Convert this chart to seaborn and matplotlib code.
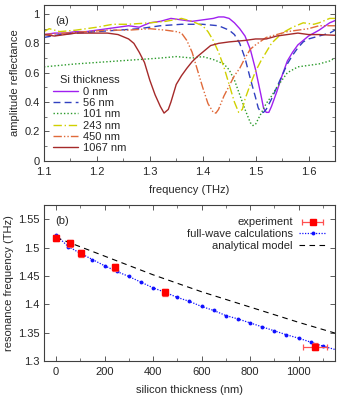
import numpy as np
import matplotlib
matplotlib.use("Agg")
import matplotlib.pyplot as plt
import seaborn as sns
from matplotlib.ticker import MultipleLocator, FuncFormatter
from matplotlib.container import ErrorbarContainer
from matplotlib.legend_handler import HandlerErrorbar

# panel (a): reflectance spectra, one frequency/amplitude pair per Si thickness
f_0 = [1.10, 1.12, 1.14, 1.16, 1.18, 1.20, 1.22, 1.24, 1.26, 1.28, 1.30, 1.32, 1.34, 1.36,
       1.38, 1.40, 1.42, 1.43, 1.44, 1.45, 1.46, 1.47, 1.48, 1.49, 1.50, 1.51, 1.515, 1.52,
       1.525, 1.53, 1.54, 1.55, 1.56, 1.57, 1.58, 1.59, 1.60, 1.62, 1.64, 1.65]
r_0 = [0.86, 0.87, 0.87, 0.88, 0.88, 0.89, 0.90, 0.91, 0.92, 0.91, 0.94, 0.95, 0.97, 0.96,
       0.95, 0.96, 0.97, 0.98, 0.98, 0.97, 0.94, 0.90, 0.85, 0.76, 0.62, 0.45, 0.36, 0.33,
       0.33, 0.37, 0.47, 0.58, 0.68, 0.74, 0.79, 0.82, 0.85, 0.89, 0.94, 0.955]

f_56 = [1.10, 1.13, 1.16, 1.20, 1.24, 1.28, 1.32, 1.36, 1.40, 1.43, 1.45, 1.46, 1.47, 1.48,
        1.49, 1.50, 1.505, 1.51, 1.515, 1.52, 1.53, 1.54, 1.55, 1.56, 1.57, 1.58, 1.59, 1.60,
        1.62, 1.64, 1.65]
r_56 = [0.84, 0.86, 0.87, 0.88, 0.89, 0.90, 0.92, 0.93, 0.93, 0.92, 0.89, 0.86, 0.80, 0.70,
        0.56, 0.43, 0.36, 0.33, 0.33, 0.35, 0.42, 0.50, 0.58, 0.66, 0.72, 0.77, 0.81, 0.83,
        0.85, 0.87, 0.89]

f_101 = [1.10, 1.13, 1.16, 1.20, 1.24, 1.28, 1.32, 1.35, 1.38, 1.40, 1.42, 1.44, 1.45, 1.46,
         1.47, 1.48, 1.49, 1.495, 1.50, 1.51, 1.52, 1.53, 1.54, 1.55, 1.56, 1.58, 1.60, 1.62,
         1.64, 1.65]
r_101 = [0.64, 0.65, 0.66, 0.67, 0.68, 0.69, 0.70, 0.71, 0.70, 0.71, 0.69, 0.66, 0.62, 0.55,
         0.45, 0.35, 0.26, 0.24, 0.25, 0.32, 0.39, 0.44, 0.50, 0.55, 0.60, 0.64, 0.65, 0.66,
         0.68, 0.70]

f_243 = [1.10, 1.11, 1.13, 1.16, 1.20, 1.23, 1.26, 1.30, 1.33, 1.36, 1.38, 1.40, 1.41, 1.42,
         1.43, 1.44, 1.45, 1.46, 1.468, 1.475, 1.48, 1.49, 1.50, 1.51, 1.52, 1.53, 1.55, 1.57,
         1.59, 1.61, 1.62, 1.64, 1.65]
r_243 = [0.88, 0.90, 0.88, 0.89, 0.91, 0.93, 0.93, 0.94, 0.95, 0.97, 0.95, 0.92, 0.88, 0.82,
         0.74, 0.64, 0.52, 0.40, 0.33, 0.35, 0.42, 0.52, 0.61, 0.68, 0.74, 0.80, 0.87, 0.91,
         0.94, 0.93, 0.94, 0.97, 0.97]

f_450 = [1.10, 1.14, 1.18, 1.22, 1.26, 1.30, 1.33, 1.35, 1.36, 1.37, 1.38, 1.39, 1.40, 1.41,
         1.42, 1.425, 1.43, 1.44, 1.45, 1.46, 1.47, 1.48, 1.49, 1.50, 1.52, 1.54, 1.56, 1.58,
         1.60, 1.62, 1.64, 1.65]
r_450 = [0.86, 0.87, 0.88, 0.89, 0.89, 0.90, 0.89, 0.88, 0.87, 0.82, 0.74, 0.62, 0.50, 0.39,
         0.33, 0.325, 0.35, 0.44, 0.51, 0.58, 0.63, 0.70, 0.76, 0.79, 0.84, 0.86, 0.88, 0.89,
         0.90, 0.92, 0.92, 0.92]

f_1067 = [1.10, 1.12, 1.14, 1.16, 1.18, 1.20, 1.22, 1.24, 1.26, 1.27, 1.28, 1.29, 1.30, 1.31,
          1.32, 1.327, 1.335, 1.34, 1.35, 1.36, 1.37, 1.38, 1.39, 1.40, 1.41, 1.415, 1.43,
          1.45, 1.48, 1.50, 1.52, 1.54, 1.56, 1.58, 1.60, 1.62, 1.65]
r_1067 = [0.86, 0.85, 0.86, 0.87, 0.87, 0.87, 0.87, 0.86, 0.83, 0.80, 0.74, 0.67, 0.55, 0.45,
          0.37, 0.325, 0.35, 0.40, 0.52, 0.58, 0.63, 0.675, 0.71, 0.74, 0.77, 0.785, 0.80,
          0.81, 0.82, 0.83, 0.83, 0.85, 0.86, 0.87, 0.86, 0.86, 0.855]

# panel (b): resonance frequency vs silicon thickness
exp_thick = [0, 56, 101, 243, 450, 1067]
exp_freq = [1.517, 1.508, 1.490, 1.465, 1.421, 1.325]
exp_xerr = [8, 8, 8, 8, 8, 50]
exp_yerr = [0.006, 0.006, 0.006, 0.006, 0.006, 0.006]

fw_thick = [0, 50, 100, 150, 200, 250, 300, 350, 400, 450, 500, 550, 600, 650, 700, 750,
            800, 850, 900, 950, 1000, 1050, 1100]
fw_freq = [1.522, 1.502, 1.490, 1.479, 1.468, 1.458, 1.449, 1.439, 1.429, 1.421, 1.412,
           1.405, 1.396, 1.389, 1.380, 1.374, 1.367, 1.360, 1.353, 1.346, 1.340, 1.333,
           1.326]
# the calculated curve runs on past the last computed point to the axis edge
fw_tail_thick = [1100, 1150]
fw_tail_freq = [1.326, 1.320]

an_thick = [0, 200, 400, 600, 800, 1000, 1150]
an_freq = [1.518, 1.485, 1.452, 1.422, 1.395, 1.368, 1.349]

sns.set_style("ticks")
plt.rcParams['font.family'] = ['Liberation Sans', 'DejaVu Sans']
FS = 8

fig = plt.figure(figsize=(3.38, 4.0), dpi=100)
ax1 = fig.add_axes([0.130, 0.598, 0.861, 0.389])
ax2 = fig.add_axes([0.130, 0.098, 0.861, 0.389])

spectra = [
    ("0 nm", f_0, r_0, "#a020f0", "-"),
    ("56 nm", f_56, r_56, "#3040c0", (0, (5, 3))),
    ("101 nm", f_101, r_101, "#2a9a2a", (0, (1, 1.5))),
    ("243 nm", f_243, r_243, "#d0d000", (0, (6, 2, 1, 2))),
    ("450 nm", f_450, r_450, "#e06a3a", (0, (6, 1.5, 1, 1.5, 1, 1.5))),
    ("1067 nm", f_1067, r_1067, "#a52a2a", "-"),
]
for lab, f, r, c, ls in spectra:
    sns.lineplot(x=f, y=r, ax=ax1, color=c, linestyle=ls, linewidth=1.0, label=lab,
                 sort=False)

ax1.set_xlim(1.1, 1.65)
ax1.set_ylim(0, 1.06)
ax1.xaxis.set_major_locator(MultipleLocator(0.1))
ax1.xaxis.set_minor_locator(MultipleLocator(0.05))
ax1.yaxis.set_major_locator(MultipleLocator(0.2))
ax1.yaxis.set_minor_locator(MultipleLocator(0.1))
ax1.yaxis.set_major_formatter(FuncFormatter(lambda v, p: f"{v:.1f}".rstrip("0").rstrip(".")))
ax1.set_xlabel("frequency (THz)", labelpad=6, fontsize=FS)
ax1.set_ylabel("amplitude reflectance", labelpad=3, fontsize=FS)
ax1.text(0.04, 0.93, "(a)", transform=ax1.transAxes, va="top", ha="left", fontsize=FS)
ax1.legend(title="Si thickness", loc="lower left", bbox_to_anchor=(0.015, 0.02),
           frameon=False, handlelength=2.3, labelspacing=0.12, handletextpad=0.4,
           borderaxespad=0.0, fontsize=FS, title_fontsize=FS)

# panel (b)
ax2.errorbar(exp_thick, exp_freq, xerr=exp_xerr, yerr=exp_yerr, fmt="s", color="#ff0000",
             ecolor="#ff5050", markersize=5, capsize=2, elinewidth=0.9, capthick=0.9,
             label="experiment", zorder=5)
sns.lineplot(x=fw_thick, y=fw_freq, ax=ax2, color="#1010ff", linestyle=(0, (1, 1.2)),
             linewidth=0.9, marker="o", markersize=2.8, markeredgewidth=0,
             label="full-wave calculations")
sns.lineplot(x=fw_tail_thick, y=fw_tail_freq, ax=ax2, color="#1010ff",
             linestyle=(0, (1, 1.2)), linewidth=0.9)
sns.lineplot(x=an_thick, y=an_freq, ax=ax2, color="black", linestyle=(0, (5, 4)),
             linewidth=0.8, label="analytical model")

ax2.set_xlim(-50, 1150)
ax2.set_ylim(1.3, 1.575)
ax2.xaxis.set_major_locator(MultipleLocator(200))
ax2.xaxis.set_minor_locator(MultipleLocator(100))
ax2.yaxis.set_major_locator(MultipleLocator(0.05))
ax2.yaxis.set_major_formatter(FuncFormatter(lambda v, p: f"{v:.2f}".rstrip("0").rstrip(".")))
ax2.set_xlabel("silicon thickness (nm)", labelpad=6, fontsize=FS)
ax2.set_ylabel("resonance frequency (THz)", labelpad=3, fontsize=FS)
ax2.text(0.04, 0.93, "(b)", transform=ax2.transAxes, va="top", ha="left", fontsize=FS)
handles, labels = ax2.get_legend_handles_labels()
order = [labels.index(n) for n in ["experiment", "full-wave calculations", "analytical model"]]
ax2.legend([handles[i] for i in order], [labels[i] for i in order], loc="upper right",
           bbox_to_anchor=(0.985, 0.95), frameon=False, markerfirst=False, numpoints=1,
           handlelength=2.4, labelspacing=0.15, handletextpad=0.6, borderaxespad=0.0,
           fontsize=FS,
           handler_map={ErrorbarContainer: HandlerErrorbar(xerr_size=0.95, yerr_size=0)})

for ax in (ax1, ax2):
    ax.tick_params(which="both", direction="in", top=True, right=True, color="#404040",
                   labelsize=FS, pad=3)
    ax.tick_params(axis="x", which="both", pad=4.5)
    ax.tick_params(which="major", length=3.5, width=0.6)
    ax.tick_params(which="minor", length=2, width=0.5)
    for s in ax.spines.values():
        s.set_color("#404040")
        s.set_linewidth(0.8)

fig.savefig("out.png", dpi=100)
